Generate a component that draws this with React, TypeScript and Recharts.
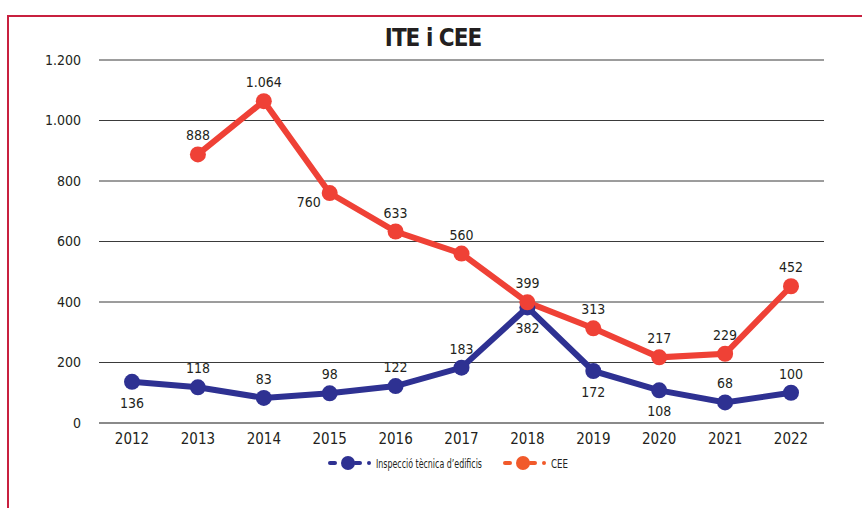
import React from 'react';
import { LineChart, Line, XAxis, YAxis, CartesianGrid, LabelList } from 'recharts';

const years = ['2012', '2013', '2014', '2015', '2016', '2017', '2018', '2019', '2020', '2021', '2022'];
const iteValues = [136, 118, 83, 98, 122, 183, 382, 172, 108, 68, 100];
const ceeValues: (number | null)[] = [null, 888, 1064, 760, 633, 560, 399, 313, 217, 229, 452];
const yTicks = [0, 200, 400, 600, 800, 1000, 1200];

// label placement (style only)
const iteBelow = ['2012', '2018', '2019', '2020'];
const ceeLeft = ['2015'];

const BLUE = '#2e3192';
const RED = '#ef4136';
const LEGEND_RED = '#f15a2b';
const FONT = '"DejaVu Sans Condensed", "Liberation Sans Narrow", sans-serif';
const TEXT_STYLE = { fontStretch: 'condensed' as const };

const data = years.map((year, i) => ({ year, ite: iteValues[i], cee: ceeValues[i] }));

const fmt = (v: number) => v.toLocaleString('de-DE');

const makeLabel = (series: 'ite' | 'cee') => (props: any) => {
  const { x, y, value, index } = props;
  if (value == null) return null;
  const year = years[index];
  let tx = x;
  let ty = y - 14;
  let anchor: 'middle' | 'end' = 'middle';
  if (series === 'ite' && iteBelow.includes(year)) ty = y + 26;
  if (series === 'cee' && ceeLeft.includes(year)) {
    tx = x - 9;
    ty = y + 14;
    anchor = 'end';
  }
  return (
    <text x={tx} y={ty} textAnchor={anchor} fontSize={14} fill="#231f20" fontFamily={FONT} style={TEXT_STYLE}>
      {fmt(value)}
    </text>
  );
};

// legend drawn as svg so the narrow type can be matched with textLength
const Legend = () => (
  <svg width={862} height={24} style={{ position: 'absolute', left: 0, top: 451 }}>
    {[
      { x: 328, color: BLUE, label: 'Inspecció tècnica d’edificis', len: 106 },
      { x: 503, color: LEGEND_RED, label: 'CEE', len: 17 },
    ].map((it) => (
      <g key={it.label} transform={`translate(${it.x},12)`}>
        <rect x={0} y={-2} width={9} height={4} rx={2} fill={it.color} />
        <circle cx={20} cy={0} r={7} fill={it.color} />
        <rect x={25} y={-2} width={9} height={4} rx={2} fill={it.color} />
        <circle cx={41} cy={0} r={2} fill={it.color} />
        <text
          x={48}
          y={4.5}
          fontSize={12}
          fill="#231f20"
          fontFamily={FONT}
          textLength={it.len}
          lengthAdjust="spacingAndGlyphs"
        >
          {it.label}
        </text>
      </g>
    ))}
  </svg>
);

export default function App() {
  return (
    <div style={{ position: 'absolute', left: 0, top: 0, width: 862, height: 508, background: '#fff', fontFamily: FONT, fontStretch: 'condensed' }}>
      <div style={{ position: 'absolute', left: 7, top: 15, right: 0, bottom: 0, borderTop: '2px solid #c8203f', borderLeft: '2px solid #c8203f' }} />
      <div style={{ position: 'absolute', left: 0, width: 866, top: 24, textAlign: 'center', fontSize: 24, fontWeight: 'bold', letterSpacing: -1, color: '#231f20' }}>
        ITE i CEE
      </div>
      <LineChart width={862} height={508} data={data} margin={{ top: 60, right: 38, bottom: 0, left: 0 }}>
        <CartesianGrid vertical={false} stroke="#3a3a3a" strokeWidth={1} />
        <XAxis
          dataKey="year"
          height={85}
          padding={{ left: 33, right: 33 }}
          tickLine={false}
          axisLine={{ stroke: '#8a8a8a', strokeWidth: 2 }}
          tick={{ fontSize: 15, fill: '#231f20', fontFamily: FONT, style: TEXT_STYLE }}
          tickMargin={4}
        />
        <YAxis
          width={99}
          domain={[0, 1200]}
          ticks={yTicks}
          tickLine={false}
          axisLine={false}
          tickFormatter={fmt}
          tick={{ fontSize: 14, fill: '#231f20', fontFamily: FONT, style: TEXT_STYLE }}
          tickMargin={12}
        />
        <Line
          dataKey="ite"
          stroke={BLUE}
          strokeWidth={6}
          dot={{ r: 8, fill: BLUE, stroke: BLUE, strokeWidth: 0 }}
          isAnimationActive={false}
        >
          <LabelList dataKey="ite" content={makeLabel('ite')} />
        </Line>
        <Line
          dataKey="cee"
          stroke={RED}
          strokeWidth={6}
          dot={{ r: 8, fill: RED, stroke: RED, strokeWidth: 0 }}
          isAnimationActive={false}
        >
          <LabelList dataKey="cee" content={makeLabel('cee')} />
        </Line>
      </LineChart>
      <Legend />
    </div>
  );
}
